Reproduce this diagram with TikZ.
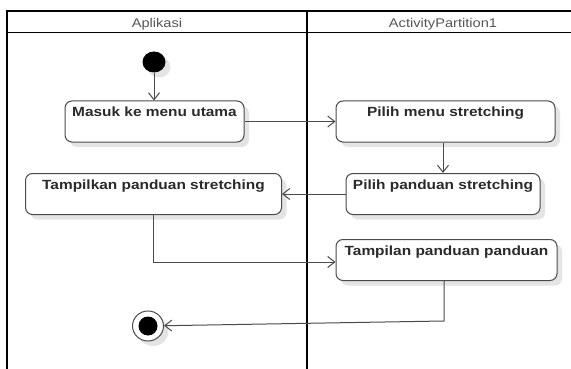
\documentclass[tikz,border=0pt]{standalone}
\usepackage{fontspec}
\setmainfont{Liberation Sans}
\usetikzlibrary{arrows.meta,shapes.geometric,shadows,calc}
\definecolor{edgegray}{HTML}{4A4A4A}
\definecolor{labelgray}{HTML}{2A2A2A}
\definecolor{headgray}{HTML}{555555}
\definecolor{shadowgray}{HTML}{E4E4E4}

% slightly widened lettering
\newcommand{\wide}[1]{\scalebox{1.16}[1]{#1}}

\begin{document}
\begin{tikzpicture}[x=1pt,y=-1pt,
  lane/.style={draw=black,line width=1.6pt},
  heading/.style={text=headgray,font=\fontsize{12.6}{14}\selectfont,inner sep=0pt},
  softshadow/.style={drop shadow={shadow xshift=5pt,shadow yshift=-5pt,fill=shadowgray,opacity=1}},
  action/.style={draw=edgegray,line width=1pt,rounded corners=7pt,fill=white,
     text=labelgray,font=\bfseries\fontsize{13.3}{15}\selectfont,
     inner xsep=0pt,inner ysep=3pt,text height=13pt,text depth=22pt,softshadow},
  flow/.style={draw=edgegray,line width=1pt,-{Straight Barb[length=7pt,width=11pt]}},
]
\useasboundingbox (0,0) rectangle (571,369);
\fill[white] (0,0) rectangle (571,369);

% swimlane frame
\draw[lane] (7,369) -- (7,11) -- (571,11);
\draw[lane] (7,32.5) -- (571,32.5);
\draw[lane] (307,11) -- (307,369);
\node[heading,anchor=base] (laneA) at (157,27.3) {\wide{Aplikasi}};
\node[heading,anchor=base] (laneB) at (443,27.3) {\wide{ActivityPartition1}};

% start and end
\node[ellipse,fill=black,minimum width=23pt,minimum height=21pt,inner sep=0pt,softshadow] (init) at (154,62) {};
\node[ellipse,draw=edgegray,fill=white,line width=1pt,minimum width=31pt,minimum height=30pt,inner sep=0pt,softshadow] (final) at (148,326) {};
\node[circle,fill=black,minimum size=19pt,inner sep=0pt] (finaldot) at (final) {};

% actions
\node[action,minimum width=179pt] (masuk) at (154.5,121.5) {\wide{Masuk ke menu utama}};
\node[action,minimum width=219pt] (pilihmenu) at (445.5,121.5) {\wide{Pilih menu stretching}};
\node[action,minimum width=194pt] (pilihpanduan) at (443,194) {\wide{Pilih panduan stretching}};
\node[action,minimum width=256pt] (tampilkan) at (153.5,194) {\wide{Tampilkan panduan stretching}};
\node[action,minimum width=221pt] (tampilan) at (446.5,260) {\wide{Tampilan panduan panduan}};

\coordinate (turn) at (444,321);

% control flow
\draw[flow] (init) -- (init |- masuk.north);
\draw[flow] (masuk.east) -- (pilihmenu.west);
\draw[flow] (pilihmenu.south -| pilihpanduan.north) -- (pilihpanduan.north);
\draw[flow] (pilihpanduan.west) -- (tampilkan.east);
\draw[flow] (tampilkan.south) |- ([yshift=-2pt]tampilan.west);
\draw[flow] (tampilan.south -| turn) -- (turn) -- (final);
\end{tikzpicture}
\end{document}
